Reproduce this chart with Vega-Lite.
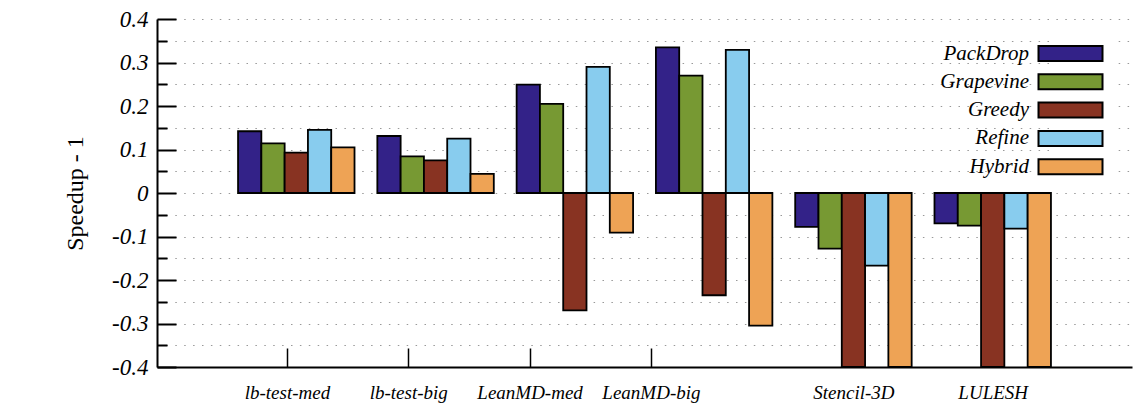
{
  "$schema": "https://vega.github.io/schema/vega-lite/v6.json",
  "width": 975,
  "height": 348,
  "autosize": "none",
  "padding": {"left": 157, "top": 19, "right": 2, "bottom": 39},
  "background": "white",
  "config": {
    "view": {"stroke": null},
    "font": "Liberation Serif"
  },
  "data": {
    "values": [
      {"benchmark": "lb-test-med", "method": "PackDrop", "value": 0.142},
      {"benchmark": "lb-test-med", "method": "Grapevine", "value": 0.114},
      {"benchmark": "lb-test-med", "method": "Greedy", "value": 0.093},
      {"benchmark": "lb-test-med", "method": "Refine", "value": 0.145},
      {"benchmark": "lb-test-med", "method": "Hybrid", "value": 0.105},
      {"benchmark": "lb-test-big", "method": "PackDrop", "value": 0.131},
      {"benchmark": "lb-test-big", "method": "Grapevine", "value": 0.084},
      {"benchmark": "lb-test-big", "method": "Greedy", "value": 0.075},
      {"benchmark": "lb-test-big", "method": "Refine", "value": 0.125},
      {"benchmark": "lb-test-big", "method": "Hybrid", "value": 0.044},
      {"benchmark": "LeanMD-med", "method": "PackDrop", "value": 0.249},
      {"benchmark": "LeanMD-med", "method": "Grapevine", "value": 0.205},
      {"benchmark": "LeanMD-med", "method": "Greedy", "value": -0.270},
      {"benchmark": "LeanMD-med", "method": "Refine", "value": 0.290},
      {"benchmark": "LeanMD-med", "method": "Hybrid", "value": -0.091},
      {"benchmark": "LeanMD-big", "method": "PackDrop", "value": 0.335},
      {"benchmark": "LeanMD-big", "method": "Grapevine", "value": 0.270},
      {"benchmark": "LeanMD-big", "method": "Greedy", "value": -0.235},
      {"benchmark": "LeanMD-big", "method": "Refine", "value": 0.329},
      {"benchmark": "LeanMD-big", "method": "Hybrid", "value": -0.305},
      {"benchmark": "Stencil-3D", "method": "PackDrop", "value": -0.078},
      {"benchmark": "Stencil-3D", "method": "Grapevine", "value": -0.128},
      {"benchmark": "Stencil-3D", "method": "Greedy", "value": -0.4},
      {"benchmark": "Stencil-3D", "method": "Refine", "value": -0.167},
      {"benchmark": "Stencil-3D", "method": "Hybrid", "value": -0.4},
      {"benchmark": "LULESH", "method": "PackDrop", "value": -0.070},
      {"benchmark": "LULESH", "method": "Grapevine", "value": -0.075},
      {"benchmark": "LULESH", "method": "Greedy", "value": -0.4},
      {"benchmark": "LULESH", "method": "Refine", "value": -0.082},
      {"benchmark": "LULESH", "method": "Hybrid", "value": -0.4}
    ]
  },
  "layer": [
    {
      "mark": {"type": "bar", "stroke": "black", "strokeWidth": 1.8, "clip": true},
      "encoding": {
        "x": {
          "field": "benchmark", "type": "nominal",
          "sort": ["lb-test-med", "lb-test-big", "LeanMD-med", "LeanMD-big", "Stencil-3D", "LULESH"],
          "scale": {"paddingInner": 0, "paddingOuter": 0.5},
          "axis": null
        },
        "xOffset": {
          "field": "method", "type": "nominal",
          "sort": ["PackDrop", "Grapevine", "Greedy", "Refine", "Hybrid"],
          "scale": {"paddingInner": 0, "paddingOuter": 0.49}
        },
        "y": {
          "field": "value", "type": "quantitative",
          "scale": {"domain": [-0.4, 0.4], "nice": false, "zero": true},
          "axis": {
            "title": "Speedup - 1",
            "titleFont": "Liberation Serif",
            "titleFontSize": 24,
            "titleFontWeight": "normal",
            "titleColor": "black",
            "titlePadding": 24,
            "values": [-0.4, -0.35, -0.3, -0.25, -0.2, -0.15, -0.1, -0.05, 0, 0.05, 0.1, 0.15, 0.2, 0.25, 0.3, 0.35, 0.4],
            "labelExpr": "abs(datum.value*10 - round(datum.value*10)) < 0.01 ? '' + round(datum.value*10)/10 : ''",
            "labelFont": "Liberation Serif",
            "labelFontStyle": "italic",
            "labelFontSize": 23,
            "labelColor": "black",
            "labelPadding": 28,
            "tickSize": {"condition": {"test": "abs(datum.value*10 - round(datum.value*10)) < 0.01", "value": -19}, "value": -10},
            "tickColor": "black",
            "tickWidth": 2,
            "domainColor": "black",
            "domainWidth": 2,
            "grid": true,
            "gridColor": "#999999",
            "gridDash": [1.5, 7.4],
            "gridWidth": 1.2
          }
        },
        "color": {
          "field": "method", "type": "nominal",
          "scale": {
            "domain": ["PackDrop", "Grapevine", "Greedy", "Refine", "Hybrid"],
            "range": ["#332288", "#779933", "#883322", "#88CCEE", "#EEA355"]
          },
          "legend": {
            "title": null,
            "orient": "none",
            "legendX": 895,
            "legendY": 16,
            "fillColor": "white",
            "padding": 8,
            "labelFont": "Liberation Serif",
            "labelFontStyle": "italic",
            "labelFontSize": 21,
            "labelColor": "black",
            "labelAlign": "right",
            "labelOffset": -52,
            "labelLimit": 0,
            "symbolType": "M-4,-0.936H4V0.936H-4Z",
            "symbolSize": 256,
            "symbolStrokeColor": "black",
            "symbolStrokeWidth": 2,
            "symbolOpacity": 1,
            "rowPadding": 5.3
          }
        }
      }
    },
    {
      "data": {"values": [{}]},
      "mark": {"type": "rule", "opacity": 0},
      "encoding": {
        "x": {
          "datum": 0, "type": "quantitative",
          "scale": {"domain": [0, 7], "nice": false},
          "axis": {
            "orient": "bottom",
            "title": null,
            "values": [0.933, 1.804, 2.675, 3.546, 5, 6],
            "labelExpr": "datum.value < 1.2 ? 'lb-test-med' : datum.value < 2.2 ? 'lb-test-big' : datum.value < 3 ? 'LeanMD-med' : datum.value < 4 ? 'LeanMD-big' : datum.value < 5.5 ? 'Stencil-3D' : 'LULESH'",
            "labelFont": "Liberation Serif",
            "labelFontStyle": "italic",
            "labelFontSize": 19,
            "labelColor": "black",
            "labelPadding": 35,
            "labelFlush": false,
            "labelOverlap": false,
            "tickSize": -19,
            "tickColor": "black",
            "tickWidth": 1.5,
            "domainColor": "black",
            "domainWidth": 2,
            "grid": false
          }
        }
      }
    }
  ],
  "resolve": {"scale": {"x": "independent"}}
}
